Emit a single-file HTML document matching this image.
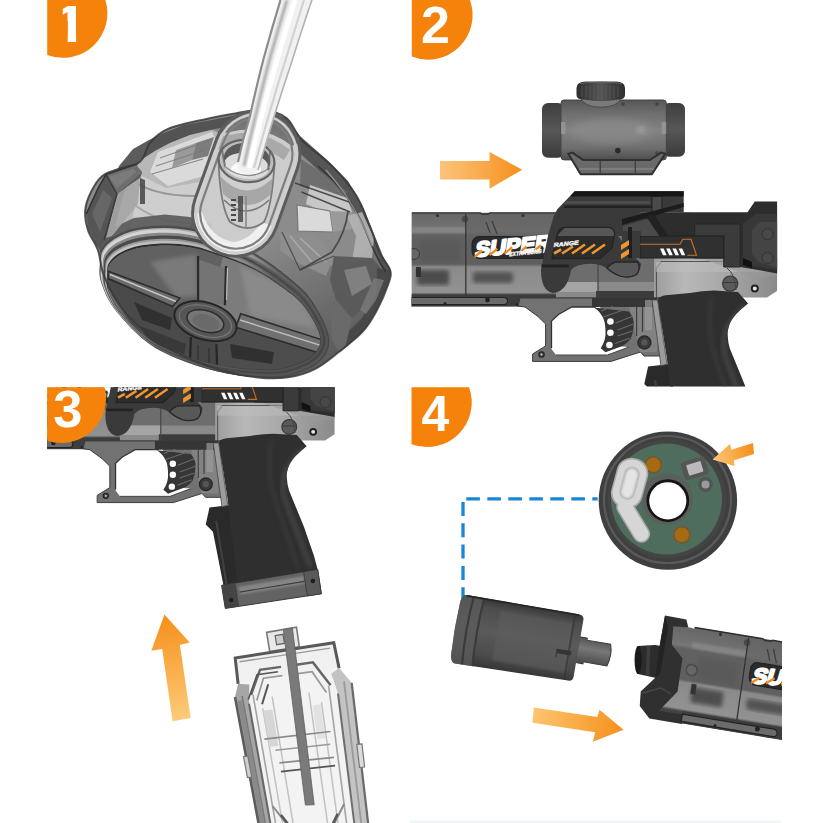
<!DOCTYPE html>
<html><head><meta charset="utf-8"><title>Steps</title>
<style>
html,body{margin:0;padding:0;background:#fff;}
body{width:823px;height:823px;overflow:hidden;position:relative;font-family:"Liberation Sans",sans-serif;}
svg{position:absolute;left:0;top:0;display:block}
text{font-family:"Liberation Sans",sans-serif;font-weight:700}
</style></head><body>
<svg width="823" height="823" viewBox="0 0 823 823">
<defs>
<linearGradient id="arR" x1="0" y1="0" x2="1" y2="0"><stop offset="0" stop-color="#fcc47c"/><stop offset="1" stop-color="#f6901c"/></linearGradient>
<linearGradient id="arU" x1="0" y1="1" x2="0" y2="0"><stop offset="0" stop-color="#fbd9a3"/><stop offset="1" stop-color="#f18a1c"/></linearGradient>
<filter id="b05"><feGaussianBlur stdDeviation="0.5"/></filter>
<filter id="b1"><feGaussianBlur stdDeviation="1"/></filter>
<filter id="b2"><feGaussianBlur stdDeviation="2"/></filter>
<filter id="b3"><feGaussianBlur stdDeviation="3.5"/></filter>
<linearGradient id="gBody" gradientUnits="userSpaceOnUse" x1="0" y1="212.700" x2="0" y2="306.300">
<stop offset="0" stop-color="#666"/><stop offset=".15" stop-color="#717171"/><stop offset=".2" stop-color="#777"/><stop offset=".24" stop-color="#616161"/><stop offset=".55" stop-color="#5f5f5f"/><stop offset=".58" stop-color="#8a8a8a"/><stop offset=".85" stop-color="#929292"/><stop offset=".88" stop-color="#444"/><stop offset="1" stop-color="#3c3c3c"/></linearGradient>
<linearGradient id="gFrame" gradientUnits="userSpaceOnUse" x1="654" y1="0" x2="777" y2="0"><stop offset="0" stop-color="#9c9c9c"/><stop offset=".25" stop-color="#b8b8b8"/><stop offset=".6" stop-color="#a6a6a6"/><stop offset="1" stop-color="#8a8a8a"/></linearGradient>
<clipPath id="c2"><rect x="411.800" y="0" width="365.500" height="386.400"/></clipPath>
<clipPath id="c3"><rect x="47.200" y="387.300" width="287.400" height="300"/></clipPath>
<linearGradient id="gScope" x1="0" y1="0" x2="0" y2="1"><stop offset="0" stop-color="#565656"/><stop offset=".2" stop-color="#6c6c6c"/><stop offset=".5" stop-color="#838383"/><stop offset=".8" stop-color="#6e6e6e"/><stop offset="1" stop-color="#4e4e4e"/></linearGradient>
<linearGradient id="gCap" x1="0" y1="0" x2="0" y2="1"><stop offset="0" stop-color="#3e3e3e"/><stop offset=".5" stop-color="#575757"/><stop offset="1" stop-color="#3a3a3a"/></linearGradient>
<linearGradient id="gKnob" x1="0" y1="0" x2="1" y2="0"><stop offset="0" stop-color="#2e2e2e"/><stop offset=".5" stop-color="#555"/><stop offset="1" stop-color="#2e2e2e"/></linearGradient>
<clipPath id="c4"><rect x="411" y="387" width="371" height="436"/></clipPath>
<linearGradient id="gCyl" x1="0" y1="0" x2="0" y2="1"><stop offset="0" stop-color="#363636"/><stop offset=".12" stop-color="#4c4c4c"/><stop offset=".45" stop-color="#5a5a5a"/><stop offset=".8" stop-color="#4c4c4c"/><stop offset="1" stop-color="#343434"/></linearGradient>
<linearGradient id="gNoz" x1="0" y1="0" x2="0" y2="1"><stop offset="0" stop-color="#555"/><stop offset=".4" stop-color="#777"/><stop offset="1" stop-color="#4a4a4a"/></linearGradient>
<linearGradient id="arS" gradientUnits="userSpaceOnUse" x1="713" y1="460" x2="754" y2="448"><stop offset="0" stop-color="#fcc878"/><stop offset="1" stop-color="#f58d1a"/></linearGradient>
<linearGradient id="arR4" gradientUnits="userSpaceOnUse" x1="532" y1="714" x2="624" y2="730"><stop offset="0" stop-color="#fcc670"/><stop offset="1" stop-color="#f6901c"/></linearGradient>
<linearGradient id="dBase" gradientUnits="userSpaceOnUse" x1="150" y1="120" x2="300" y2="380"><stop offset="0" stop-color="#8a8a8a"/><stop offset=".5" stop-color="#8e8e8e"/><stop offset="1" stop-color="#5a5a5a"/></linearGradient>
<linearGradient id="dLid" gradientUnits="userSpaceOnUse" x1="180" y1="240" x2="240" y2="380"><stop offset="0" stop-color="#747474"/><stop offset="1" stop-color="#4a4a4a"/></linearGradient>
<linearGradient id="arU3" gradientUnits="userSpaceOnUse" x1="182" y1="720" x2="166" y2="616"><stop offset="0" stop-color="#fccb7a"/><stop offset="1" stop-color="#f6901c"/></linearGradient>
<linearGradient id="dRimShade" gradientUnits="userSpaceOnUse" x1="150" y1="225" x2="250" y2="380"><stop offset="0" stop-color="#484848" stop-opacity="0"/><stop offset=".3" stop-color="#484848" stop-opacity=".15"/><stop offset=".6" stop-color="#484848" stop-opacity=".8"/><stop offset="1" stop-color="#444" stop-opacity=".88"/></linearGradient>
</defs>
<rect width="823" height="823" fill="#fff"/>
<g id="p1">
<path d="M85.2 210.3C85.7 203.9 88.2 197.7 91.0 192.0C93.8 186.3 97.2 180.1 102.0 176.2C106.8 172.3 114.3 170.5 120.0 168.5C125.7 166.5 132.2 165.8 136.0 164.0C139.8 162.2 140.5 161.8 143.0 158.0C145.5 154.2 146.5 146.5 151.0 141.5C155.5 136.5 161.0 131.8 170.2 128.0C179.4 124.2 196.0 121.2 206.3 118.9C216.6 116.6 222.6 115.5 232.0 114.0C241.4 112.5 253.4 109.3 262.5 110.0C271.6 110.7 280.0 113.0 286.5 118.0C293.0 123.0 294.1 131.9 301.7 140.0C309.3 148.1 323.2 157.1 332.3 166.3C341.4 175.5 349.9 185.4 356.1 195.3C362.3 205.2 365.7 216.3 369.7 225.9C373.7 235.5 376.5 245.7 379.9 253.1C383.3 260.5 388.7 265.0 390.1 270.1C391.5 275.2 390.7 276.9 388.4 283.7C386.1 290.5 380.8 303.1 376.5 311.0C372.2 318.9 369.1 324.6 362.9 331.4C356.7 338.2 347.0 345.6 339.1 351.8C331.2 358.0 323.8 364.6 315.3 368.8C306.8 373.1 297.6 375.9 288.0 377.3C278.4 378.8 268.9 378.6 258.0 377.5C247.1 376.4 235.0 374.2 222.4 370.5C209.8 366.8 194.3 361.2 182.3 355.5C170.3 349.8 160.2 343.8 150.2 336.0C140.2 328.2 129.8 318.5 122.1 308.5C114.4 298.5 108.1 285.7 104.1 276.0C100.1 266.3 100.7 258.0 98.0 250.4C95.3 242.8 90.1 237.0 88.0 230.3C85.9 223.6 84.7 216.7 85.2 210.3Z" fill="url(#dBase)"/>
<path d="M100 252L98 230L110 190L119 166L133 149L149 140L164 133L184 125L206 121L232 116L262 110L286 118L300 136L290 140Q262 120 232 126L210 130L190 135L170 143L155 151L141 160L130 176L122 200L112 240L108 262Z" fill="#4e4e4e" opacity=".92"/>
<path d="M141 160L155 151L170 143L190 135L212 130L222 134L200 200L186 236L150 240L120 250L112 240L122 200L130 176Z" fill="#bdbdbd" opacity=".9"/>
<path d="M158 152L212 132L216 140L204 176L168 186L150 172Z" fill="#dedede" opacity=".9" filter="url(#b05)"/>
<path d="M176 150L196 143L192 160L172 168Z" fill="#8a8a8a" opacity=".8"/>
<path d="M196 143L214 137L208 156L192 160Z" fill="#6c6c6c" opacity=".85"/>
<path d="M160 158L208 141M156 166L205 150M152 174L203 159" stroke="#777" stroke-width="1.200" opacity=".8"/>
<path d="M142 176L166 188L200 182L190 226L150 238L126 246Z" fill="#d2d2d2" opacity=".85" filter="url(#b05)"/>
<path d="M130 178Q150 196 196 196" stroke="#8a8a8a" stroke-width="2" fill="none" opacity=".8"/>
<path d="M128 200Q160 226 192 222" stroke="#9a9a9a" stroke-width="2" fill="none" opacity=".7"/>
<path d="M140 178v26h5v-24z" fill="#444" opacity=".85"/>
<path d="M101 246L112 228L134 218L165 214.500L190 217L212 224L212 236L189 229L165 226.500L136 229L114 238L103 252Z" fill="#5a5a5a" opacity=".9" filter="url(#b05)"/>
<path d="M86.400 213.700L98.400 187.500L106 174.400L135.600 164.500L142.200 172.200L140 178L117 194L104 240L100.600 250L96.200 244.400L88.600 229Z" fill="#5c5c5c"/>
<path d="M106 174.400L135.600 164.500L142.200 172.200L117 194Z" fill="#6e6e6e"/>
<path d="M109 177L133 168.500L136 172L117 188Z" fill="#7e7e7e" opacity=".8"/>
<path d="M117 194L140 178L138 204L112 236L106 238Z" fill="#a6a6a6" opacity=".9"/>
<path d="M86.400 213.700L98.400 187.500L106 174.400L117 194L104 238L100.600 250L96.200 244.400L88.600 229Z" fill="#555"/>
<path d="M92 214L103 190L112 198L100 232Z" fill="#6c6c6c" opacity=".8"/>
<path d="M86.400 213.700L98.400 187.500L106 174.400L135.600 164.500" stroke="#333" stroke-width="1.600" fill="none"/>
<path d="M106 174.400L117 194L104 240" stroke="#3a3a3a" stroke-width="1.400" fill="none"/>
<path d="M300 136L326 159L348 181L363 207L374 234L383 256L391 271L384 272L370 244L356 214L340 190L318 170L296 150Z" fill="#505050" opacity=".92"/>
<path d="M296 150L318 170L340 190L356 214L370 244L350 262L318 268L282 250L276 226L290 180Z" fill="#8c8c8c" opacity=".95"/>
<path d="M301 159L330 178L347 192L340 200L300 186Z" fill="#6a6a6a" opacity=".9"/>
<path d="M310 185L347 198L352 212L334 216L306 204Z" fill="#cacaca" opacity=".95"/>
<path d="M297 205L330 211L333 232L298 231Z" fill="#dadada"/>
<path d="M297 205L330 211L333 232L298 231Z" fill="none" stroke="#777" stroke-width="1.200"/>
<path d="M330 211L352 212L356 228L333 232Z" fill="#9a9a9a"/>
<path d="M347 216L362 212L374 238L372 258L352 262L356 236Z" fill="#b4b4b4" opacity=".9" filter="url(#b05)"/>
<path d="M282 232L318 238L334 256L326 276L296 262L280 250Z" fill="#8e8e8e"/>
<path d="M290 236L312 262M300 238L326 262" stroke="#b4b4b4" stroke-width="1.600" opacity=".7"/>
<path d="M334 256L372 258L386 274L372 300L352 318L336 300L330 280Z" fill="#5a5a5a" opacity=".95"/>
<path d="M344 270L366 266L372 284L352 296Z" fill="#8a8a8a" opacity=".8" filter="url(#b05)"/>
<path d="M377 268L391 271L388 284L376 311L363 331L345 348L340 340L362 318L376 294Z" fill="#484848"/>
<path d="M374 278L384 280L376 300L366 314L360 310Z" fill="#7a7a7a" opacity=".8"/>
<path d="M330 300L352 318L345 348L339 352L332 340Z" fill="#6a6a6a"/>
<path d="M295 183L352 203M301.500 192L350 212" stroke="#3a3a3a" stroke-width="1.500" opacity=".85"/>
<path d="M348 211Q346 232 332 252L300 270" stroke="#3e3e3e" stroke-width="1.800" fill="none" opacity=".85"/>
<path d="M318 166Q352 196 366 232Q376 258 386 272" stroke="#2e2e2e" stroke-width="1.600" fill="none" opacity=".8"/>
<path d="M326 170Q356 204 372 246" stroke="#bdbdbd" stroke-width="1.200" fill="none" opacity=".6"/>
<path d="M282 232L300 270L334 256" stroke="#444" stroke-width="1.300" fill="none" opacity=".8"/>
<path d="M100.0 262.0C100.2 256.4 99.7 252.8 102.0 248.5C104.3 244.2 108.3 239.9 114.0 236.5C119.7 233.1 127.5 229.8 136.0 228.0C144.5 226.2 156.2 225.5 165.0 225.5C173.8 225.5 181.2 226.4 189.0 228.0C196.8 229.6 201.2 230.8 212.0 235.0C222.8 239.2 241.3 246.0 254.0 253.0C266.7 260.0 278.3 269.0 288.0 277.0C297.7 285.0 305.2 290.8 312.0 301.0C318.8 311.2 327.8 327.8 329.0 338.0C330.2 348.2 325.8 355.7 319.0 362.0C312.2 368.3 298.2 373.5 288.0 376.0C277.8 378.5 267.7 377.3 258.0 377.0C248.3 376.7 241.0 376.2 230.0 374.0C219.0 371.8 205.2 368.8 192.0 364.0C178.8 359.2 163.7 353.8 151.0 345.0C138.3 336.2 124.3 321.5 116.0 311.0C107.7 300.5 103.7 290.2 101.0 282.0C98.3 273.8 99.8 267.6 100.0 262.0Z" fill="#4c4c4c"/>
<path d="M101.0 263.6C101.1 258.1 100.6 254.5 102.9 250.4C105.3 246.2 109.2 242.0 114.8 238.7C120.5 235.3 128.2 232.1 136.6 230.3C145.1 228.6 156.6 227.9 165.4 227.9C174.1 227.9 181.4 228.8 189.2 230.3C196.9 231.9 201.2 233.1 212.0 237.2C222.7 241.3 241.0 247.9 253.6 254.8C266.1 261.6 277.7 270.4 287.3 278.3C296.9 286.1 304.3 291.8 311.1 301.7C317.8 311.7 326.8 328.0 327.9 337.9C329.1 347.8 324.8 355.2 318.0 361.4C311.2 367.6 297.4 372.6 287.3 375.1C277.2 377.5 267.1 376.4 257.6 376.0C248.0 375.7 240.7 375.2 229.8 373.1C218.9 371.0 205.2 368.1 192.1 363.3C179.1 358.6 164.1 353.4 151.5 344.7C139.0 336.1 125.1 321.8 116.8 311.5C108.6 301.2 104.6 291.1 102.0 283.1C99.3 275.2 100.8 269.1 101.0 263.6Z" fill="#b4b4b4"/>
<path d="M101.6 264.7C101.8 259.3 101.3 255.7 103.6 251.7C105.9 247.6 109.8 243.4 115.4 240.1C121.0 236.8 128.7 233.7 137.1 231.9C145.4 230.1 156.9 229.5 165.6 229.5C174.3 229.5 181.6 230.4 189.3 231.9C197.0 233.4 201.3 234.6 211.9 238.7C222.6 242.7 240.8 249.2 253.3 256.0C265.8 262.7 277.3 271.4 286.8 279.1C296.3 286.8 303.7 292.4 310.5 302.2C317.2 312.0 326.1 328.1 327.2 337.8C328.4 347.6 324.1 354.9 317.4 361.0C310.6 367.1 296.8 372.0 286.8 374.4C276.8 376.8 266.8 375.7 257.3 375.4C247.7 375.1 240.5 374.6 229.7 372.5C218.8 370.4 205.2 367.5 192.2 362.9C179.3 358.2 164.3 353.1 151.8 344.6C139.4 336.1 125.6 322.0 117.4 311.8C109.2 301.7 105.2 291.8 102.6 283.9C100.0 276.0 101.4 270.0 101.6 264.7Z" fill="#d6d6d6"/>
<path d="M102.9 266.8C103.0 261.6 102.6 258.1 104.8 254.2C107.1 250.2 111.0 246.2 116.5 243.0C122.0 239.8 129.6 236.8 137.9 235.0C146.2 233.3 157.5 232.7 166.1 232.7C174.7 232.7 181.9 233.6 189.5 235.0C197.1 236.5 201.3 237.7 211.9 241.6C222.4 245.5 240.4 251.8 252.8 258.4C265.1 264.9 276.5 273.3 285.9 280.8C295.3 288.2 302.6 293.7 309.2 303.2C315.9 312.7 324.6 328.2 325.8 337.7C326.9 347.2 322.7 354.2 316.0 360.1C309.4 366.0 295.8 370.8 285.9 373.2C276.0 375.5 266.1 374.4 256.7 374.1C247.3 373.8 240.1 373.3 229.4 371.3C218.7 369.3 205.2 366.5 192.4 362.0C179.6 357.5 164.8 352.5 152.5 344.2C140.2 336.0 126.6 322.3 118.5 312.5C110.3 302.7 106.4 293.1 103.9 285.4C101.3 277.8 102.7 272.0 102.9 266.8Z" fill="#8a8a8a"/>
<path d="M104.0 268.6C104.2 263.6 103.7 260.2 105.9 256.4C108.2 252.5 112.0 248.6 117.5 245.5C122.9 242.4 130.5 239.4 138.7 237.8C146.8 236.1 158.1 235.5 166.6 235.5C175.1 235.5 182.2 236.3 189.7 237.8C197.2 239.2 201.4 240.3 211.9 244.1C222.3 247.9 240.1 254.1 252.3 260.5C264.5 266.8 275.7 275.0 285.0 282.2C294.3 289.5 301.6 294.8 308.2 304.0C314.7 313.3 323.4 328.4 324.5 337.6C325.6 346.8 321.5 353.6 314.9 359.4C308.3 365.1 294.8 369.8 285.0 372.1C275.2 374.4 265.5 373.3 256.1 373.0C246.8 372.7 239.8 372.2 229.2 370.3C218.6 368.3 205.3 365.6 192.6 361.2C179.9 356.8 165.3 352.0 153.1 344.0C140.9 335.9 127.4 322.6 119.4 313.1C111.4 303.6 107.5 294.2 105.0 286.8C102.4 279.4 103.8 273.7 104.0 268.6Z" fill="#4a4a4a"/>
<path d="M105.3 270.8C105.4 265.9 105.0 262.6 107.2 258.9C109.4 255.2 113.2 251.4 118.6 248.4C124.0 245.4 131.4 242.5 139.5 240.9C147.6 239.3 158.7 238.7 167.1 238.7C175.5 238.7 182.5 239.5 189.9 240.9C197.4 242.3 201.5 243.4 211.8 247.1C222.1 250.7 239.7 256.7 251.8 262.9C263.8 269.0 274.9 276.9 284.1 283.9C293.3 290.9 300.4 296.1 306.9 305.0C313.4 313.9 322.0 328.5 323.1 337.5C324.2 346.4 320.1 353.0 313.6 358.5C307.1 364.1 293.8 368.6 284.1 370.8C274.4 373.0 264.8 372.0 255.6 371.7C246.4 371.4 239.4 371.0 228.9 369.1C218.5 367.2 205.3 364.5 192.8 360.3C180.3 356.1 165.8 351.4 153.8 343.6C141.7 335.9 128.4 323.0 120.5 313.8C112.6 304.6 108.8 295.5 106.2 288.3C103.7 281.1 105.1 275.7 105.3 270.8Z" fill="#9c9c9c"/>
<path d="M106.1 272.1C106.2 267.3 105.8 264.1 108.0 260.5C110.2 256.8 113.9 253.1 119.3 250.2C124.6 247.2 132.0 244.4 140.0 242.9C148.1 241.3 159.1 240.7 167.4 240.7C175.8 240.7 182.7 241.5 190.1 242.9C197.5 244.2 201.6 245.3 211.8 248.9C222.0 252.5 239.5 258.3 251.4 264.3C263.4 270.4 274.4 278.1 283.5 285.0C292.6 291.8 299.7 296.9 306.2 305.6C312.6 314.3 321.1 328.7 322.2 337.4C323.3 346.1 319.2 352.6 312.8 358.0C306.3 363.5 293.1 367.9 283.5 370.1C273.9 372.2 264.3 371.2 255.2 370.9C246.1 370.6 239.1 370.2 228.8 368.3C218.4 366.5 205.3 363.9 192.9 359.7C180.5 355.6 166.2 351.0 154.2 343.4C142.3 335.8 129.0 323.2 121.2 314.2C113.3 305.2 109.5 296.3 107.0 289.3C104.5 282.3 105.9 276.9 106.1 272.1Z" fill="#c4c4c4"/>
<path d="M107.2 273.9C107.3 269.3 106.9 266.2 109.1 262.7C111.2 259.1 115.0 255.5 120.3 252.7C125.5 249.8 132.9 247.1 140.8 245.6C148.7 244.1 159.6 243.5 167.9 243.5C176.1 243.5 183.0 244.3 190.3 245.6C197.6 246.9 201.6 248.0 211.7 251.4C221.8 254.9 239.1 260.6 250.9 266.4C262.8 272.3 273.6 279.8 282.7 286.4C291.7 293.1 298.7 298.0 305.1 306.4C311.5 314.9 319.9 328.8 320.9 337.3C322.0 345.8 318.0 352.0 311.6 357.3C305.2 362.6 292.2 366.9 282.7 369.0C273.2 371.0 263.7 370.1 254.7 369.8C245.6 369.5 238.8 369.1 228.5 367.3C218.3 365.5 205.4 363.0 193.1 359.0C180.8 354.9 166.6 350.5 154.8 343.1C143.0 335.8 129.9 323.5 122.1 314.8C114.3 306.0 110.6 297.4 108.1 290.6C105.6 283.8 107.0 278.6 107.2 273.9Z" fill="#2e2e2e"/>
<path d="M100.0 262.0C100.2 256.4 99.7 252.8 102.0 248.5C104.3 244.2 108.3 239.9 114.0 236.5C119.7 233.1 127.5 229.8 136.0 228.0C144.5 226.2 156.2 225.5 165.0 225.5C173.8 225.5 181.2 226.4 189.0 228.0C196.8 229.6 201.2 230.8 212.0 235.0C222.8 239.2 241.3 246.0 254.0 253.0C266.7 260.0 278.3 269.0 288.0 277.0C297.7 285.0 305.2 290.8 312.0 301.0C318.8 311.2 327.8 327.8 329.0 338.0C330.2 348.2 325.8 355.7 319.0 362.0C312.2 368.3 298.2 373.5 288.0 376.0C277.8 378.5 267.7 377.3 258.0 377.0C248.3 376.7 241.0 376.2 230.0 374.0C219.0 371.8 205.2 368.8 192.0 364.0C178.8 359.2 163.7 353.8 151.0 345.0C138.3 336.2 124.3 321.5 116.0 311.0C107.7 300.5 103.7 290.2 101.0 282.0C98.3 273.8 99.8 267.6 100.0 262.0Z M108.0 275.3C108.1 270.7 107.7 267.7 109.8 264.3C112.0 260.8 115.7 257.3 121.0 254.5C126.2 251.7 133.5 249.0 141.3 247.6C149.2 246.1 160.0 245.5 168.2 245.5C176.4 245.5 183.2 246.3 190.4 247.6C197.7 248.8 201.7 249.9 211.7 253.3C221.7 256.7 238.9 262.2 250.6 267.9C262.3 273.6 273.1 281.0 282.1 287.5C291.0 294.0 298.0 298.8 304.3 307.0C310.6 315.3 319.0 328.9 320.0 337.2C321.1 345.5 317.1 351.6 310.8 356.8C304.5 361.9 291.5 366.1 282.1 368.2C272.7 370.2 263.3 369.3 254.3 369.0C245.3 368.7 238.6 368.3 228.4 366.5C218.2 364.8 205.4 362.3 193.2 358.4C181.0 354.5 166.9 350.1 155.2 342.9C143.5 335.7 130.5 323.8 122.8 315.2C115.1 306.6 111.4 298.2 108.9 291.6C106.4 284.9 107.8 279.8 108.0 275.3Z" fill="url(#dRimShade)" fill-rule="evenodd"/>
<path d="M108.0 275.3C108.1 270.7 107.7 267.7 109.8 264.3C112.0 260.8 115.7 257.3 121.0 254.5C126.2 251.7 133.5 249.0 141.3 247.6C149.2 246.1 160.0 245.5 168.2 245.5C176.4 245.5 183.2 246.3 190.4 247.6C197.7 248.8 201.7 249.9 211.7 253.3C221.7 256.7 238.9 262.2 250.6 267.9C262.3 273.6 273.1 281.0 282.1 287.5C291.0 294.0 298.0 298.8 304.3 307.0C310.6 315.3 319.0 328.9 320.0 337.2C321.1 345.5 317.1 351.6 310.8 356.8C304.5 361.9 291.5 366.1 282.1 368.2C272.7 370.2 263.3 369.3 254.3 369.0C245.3 368.7 238.6 368.3 228.4 366.5C218.2 364.8 205.4 362.3 193.2 358.4C181.0 354.5 166.9 350.1 155.2 342.9C143.5 335.7 130.5 323.8 122.8 315.2C115.1 306.6 111.4 298.2 108.9 291.6C106.4 284.9 107.8 279.8 108.0 275.3Z" fill="url(#dLid)"/>
<clipPath id="cLid"><path d="M108.0 275.3C108.1 270.7 107.7 267.7 109.8 264.3C112.0 260.8 115.7 257.3 121.0 254.5C126.2 251.7 133.5 249.0 141.3 247.6C149.2 246.1 160.0 245.5 168.2 245.5C176.4 245.5 183.2 246.3 190.4 247.6C197.7 248.8 201.7 249.9 211.7 253.3C221.7 256.7 238.9 262.2 250.6 267.9C262.3 273.6 273.1 281.0 282.1 287.5C291.0 294.0 298.0 298.8 304.3 307.0C310.6 315.3 319.0 328.9 320.0 337.2C321.1 345.5 317.1 351.6 310.8 356.8C304.5 361.9 291.5 366.1 282.1 368.2C272.7 370.2 263.3 369.3 254.3 369.0C245.3 368.7 238.6 368.3 228.4 366.5C218.2 364.8 205.4 362.3 193.2 358.4C181.0 354.5 166.9 350.1 155.2 342.9C143.5 335.7 130.5 323.8 122.8 315.2C115.1 306.6 111.4 298.2 108.9 291.6C106.4 284.9 107.8 279.8 108.0 275.3Z"/></clipPath>
<g clip-path="url(#cLid)">
<path d="M205 321L100 268L130 236L230 244Z" fill="#616161"/>
<path d="M150 262L196 254L198 296L176 298Z" fill="#8a8a8a" opacity=".6" filter="url(#b2)"/>
<path d="M226 246L300 280L335 345L205 321Z" fill="#7c7c7c"/>
<path d="M240 266L296 290L316 328L250 316Z" fill="#909090" opacity=".7" filter="url(#b2)"/>
<path d="M205 321L335 345L310 385L205 385Z" fill="#4d4d4d"/>
<path d="M205 321L205 385L150 355L100 275Z" fill="#4a4a4a"/>
<path d="M134 302L172 318L170 330L142 320Z" fill="#2c2c2c" opacity=".8" filter="url(#b05)"/>
<path d="M140 326L186 344L184 354L150 342Z" fill="#303030" opacity=".7" filter="url(#b05)"/>
<path d="M230 344L274 352L272 364L232 358Z" fill="#2c2c2c" opacity=".8" filter="url(#b05)"/>
<path d="M108.200 271.300L179.900 298L172.600 306.500L108.200 278.600Z" fill="#6a6a6a" stroke="#2c2c2c" stroke-width="1.600"/>
<path d="M110 274.500L176 301.500" stroke="#d4d4d4" stroke-width="1.400" opacity=".85"/>
<path d="M240.700 313.800L335 344L335 358L235.800 327.200Z" fill="#707070" stroke="#2c2c2c" stroke-width="1.600"/>
<path d="M240 320L335 350" stroke="#d0d0d0" stroke-width="1.400" opacity=".8"/>
<path d="M198.100 259.200L226 268.900L224.900 305.300L198.100 300.500Z" fill="#747474"/>
<path d="M198.100 256L198.100 300.500M226 266L224.900 305.300" stroke="#2a2a2a" stroke-width="2.200"/>
<path d="M227.500 268L226.500 300" stroke="#cfcfcf" stroke-width="1.200" opacity=".8"/>
<path d="M190.900 337L216.400 344.200L217.600 380L189.600 380Z" fill="#474747"/>
<path d="M190.900 337L189.600 372M216.400 344.200L217.600 380" stroke="#262626" stroke-width="2.200"/>
<path d="M198 345V372M209 348V376" stroke="#333" stroke-width="1.400"/>
</g>
<g transform="translate(205.4 321.1) rotate(17)">
<ellipse rx="32" ry="18.5" fill="#565656" stroke="#262626" stroke-width="2"/>
<ellipse rx="27" ry="15" fill="none" stroke="#8a8a8a" stroke-width="1" opacity=".7"/>
<ellipse rx="19" ry="10.5" fill="#767676" stroke="#2e2e2e" stroke-width="1.6"/>
<ellipse cx="1" cy="1" rx="14" ry="7.5" fill="#6a6a6a"/>
</g>
<path d="M85.2 210.3C85.7 203.9 88.2 197.7 91.0 192.0C93.8 186.3 97.2 180.1 102.0 176.2C106.8 172.3 114.3 170.5 120.0 168.5C125.7 166.5 132.2 165.8 136.0 164.0C139.8 162.2 140.5 161.8 143.0 158.0C145.5 154.2 146.5 146.5 151.0 141.5C155.5 136.5 161.0 131.8 170.2 128.0C179.4 124.2 196.0 121.2 206.3 118.9C216.6 116.6 222.6 115.5 232.0 114.0C241.4 112.5 253.4 109.3 262.5 110.0C271.6 110.7 280.0 113.0 286.5 118.0C293.0 123.0 294.1 131.9 301.7 140.0C309.3 148.1 323.2 157.1 332.3 166.3C341.4 175.5 349.9 185.4 356.1 195.3C362.3 205.2 365.7 216.3 369.7 225.9C373.7 235.5 376.5 245.7 379.9 253.1C383.3 260.5 388.7 265.0 390.1 270.1C391.5 275.2 390.7 276.9 388.4 283.7C386.1 290.5 380.8 303.1 376.5 311.0C372.2 318.9 369.1 324.6 362.9 331.4C356.7 338.2 347.0 345.6 339.1 351.8C331.2 358.0 323.8 364.6 315.3 368.8C306.8 373.1 297.6 375.9 288.0 377.3C278.4 378.8 268.9 378.6 258.0 377.5C247.1 376.4 235.0 374.2 222.4 370.5C209.8 366.8 194.3 361.2 182.3 355.5C170.3 349.8 160.2 343.8 150.2 336.0C140.2 328.2 129.8 318.5 122.1 308.5C114.4 298.5 108.1 285.7 104.1 276.0C100.1 266.3 100.7 258.0 98.0 250.4C95.3 242.8 90.1 237.0 88.0 230.3C85.9 223.6 84.7 216.7 85.2 210.3Z" fill="none" stroke="#3a3a3a" stroke-width="2" opacity=".85"/>
<clipPath id="cPl"><rect x="-43" y="-74.4" width="86" height="148.8" rx="43" transform="translate(246.3 183.5) rotate(19.7)"/></clipPath>
<g transform="translate(246.3 183.5) rotate(19.7)">
<rect x="-43" y="-74.4" width="86" height="148.8" rx="43" fill="#d6d6d6" opacity=".86"/>
</g>
<g clip-path="url(#cPl)">
<path d="M206 121L232 116L262 110L290 118L304 140L292 146Q270 128 240 130L214 135Z" fill="#5a5a5a" opacity=".75"/>
<path d="M214 138L240 133Q268 132 290 150L284 160Q262 144 238 146L214 150Z" fill="#9a9a9a" opacity=".7"/>
<path d="M190 215Q200 250 236 256Q262 250 272 226L262 222Q250 240 234 242Q210 238 202 212Z" fill="#fff" opacity=".7"/>
</g>
<g transform="translate(246.3 183.5) rotate(19.7)">
<rect x="-43" y="-74.4" width="86" height="148.8" rx="43" fill="none" stroke="#5c5c5c" stroke-width="3"/>
<rect x="-39.500" y="-71" width="79" height="142" rx="39.500" fill="none" stroke="#cfcfcf" stroke-width="2.5"/>
<rect x="-35.500" y="-67" width="71" height="134" rx="35.500" fill="none" stroke="#7e7e7e" stroke-width="2.200"/>
</g>
<path d="M218.500 160Q220 206 230 222Q248 234 264 222Q272 206 274.500 164Z" fill="#d0d0d0" stroke="#777" stroke-width="1.800" opacity=".95"/>
<path d="M220 176Q246 204 273 178L271 194Q248 216 223 194Z" fill="#9c9c9c" opacity=".8"/>
<path d="M224 200Q246 222 269 200" stroke="#7a7a7a" stroke-width="1.600" fill="none"/>
<ellipse cx="246.500" cy="161" rx="28" ry="21" transform="rotate(8 246.500 161)" fill="#bdbdbd" stroke="#666" stroke-width="2.200"/>
<ellipse cx="247" cy="160" rx="23.500" ry="17" transform="rotate(8 247 160)" fill="#5a5a5a"/>
<ellipse cx="246.500" cy="166" rx="22.500" ry="13" transform="rotate(8 246.500 166)" fill="#dcdcdc"/>
<ellipse cx="246" cy="169" rx="15" ry="7.500" fill="#fff" opacity=".85"/>
<path d="M224 166Q246 184 270 168" stroke="#8a8a8a" stroke-width="1.400" fill="none"/>
<path d="M238 196h5v26h-5z" fill="#4a4a4a" opacity=".85"/>
<path d="M236 200h-5M236 205h-5M236 210h-5M236 215h-5M236 220h-5" stroke="#4a4a4a" stroke-width="1.800"/>
<path d="M246 196V228" stroke="#8a8a8a" stroke-width="1.600"/>
<path d="M222 150l3 16M270 152l-2 18" stroke="#666" stroke-width="2" opacity=".8"/>
<path d="M280.500 0H311.900Q301 32 292.900 58.300Q283 88 274 116.700Q264 150 258 170Q250 178 240 172Q236 168 238 160Q243 138 249.900 116.700Q256 88 263.700 58.300Q272 28 280.500 0Z" fill="#f1f1f1"/>
<path d="M280.500 0Q272 28 263.700 58.300Q256 88 249.900 116.700Q243 138 238 162" stroke="#8c8c8c" stroke-width="2.200" fill="none"/>
<path d="M311.900 0Q301 32 292.900 58.300Q283 88 274 116.700Q264 150 258 170" stroke="#b2b2b2" stroke-width="1.600" fill="none"/>
<path d="M287 0Q278 30 270 58Q262 88 255.500 116Q249 142 244 166" stroke="#9a9a9a" stroke-width="3" fill="none" opacity=".8" filter="url(#b1)"/>
<path d="M295 0Q285 32 277 60Q268 90 261 118Q254 146 249 168" stroke="#fff" stroke-width="5" fill="none"/>
<path d="M304 0Q294 32 285.500 60Q276 90 268 118Q260 146 254 168" stroke="#cfcfcf" stroke-width="2.200" fill="none" opacity=".9" filter="url(#b05)"/>
</g>
<g id="p2" clip-path="url(#c2)">
<g id="gun">
<!-- front extension (visible in panel 4) -->
<path d="M385 214H412V306.300H385Z" fill="url(#gBody)"/>
<path d="M357.300 239.500Q354.500 252 361.400 266.200L380 267.100V235.800H374.500Z" fill="#2c2c2c"/>
<ellipse cx="359.600" cy="252.800" rx="3.600" ry="13.600" fill="#1b1b1b" transform="rotate(-8 359.600 252.800)"/>
<path d="M368 237.500L371 266" stroke="#4a4a4a" stroke-width="3.500" opacity=".6"/>
<path d="M379.900 206.200L401.600 206.500L404.600 213.600H409L389.600 215L390.800 232.900L403.300 244.200L403.100 276.600L387.400 298H412V307H396.900L379 307L367.700 296.500L366.600 282.400L379.100 267.100L378.800 238.600Z" fill="#303030"/>
<path d="M379.900 206.200L384.500 217L383.500 263L379.100 267.100L378.800 238.600Z" fill="#232323"/>
<path d="M367.500 284L386 276L397 280" stroke="#484848" stroke-width="1.500" fill="none"/>
<!-- translucent body -->
<path d="M411 212.7H560V306.3H411Z" fill="url(#gBody)"/>
<rect x="411" y="227" width="55" height="6" fill="#8c8c8c" opacity=".7" filter="url(#b1)"/>
<rect x="466" y="214" width="90" height="20" fill="#646464" opacity=".6"/>
<!-- dark blotches inside -->
<rect x="417" y="270" width="32" height="15" rx="2" fill="#3e3e3e" opacity=".8" filter="url(#b2)"/>
<rect x="416" y="267" width="5" height="10" fill="#333" filter="url(#b05)"/>
<rect x="473" y="272" width="40" height="11" rx="3" fill="#444" opacity=".8" filter="url(#b2)"/>
<rect x="420" y="240" width="40" height="22" fill="#555" opacity=".5" filter="url(#b2)"/>
<circle cx="414" cy="254" r="5.5" fill="#666" stroke="#3a3a3a" stroke-width="1" filter="url(#b05)"/>
<circle cx="465" cy="219" r="3.3" fill="#4a4a4a" filter="url(#b05)"/>
<circle cx="437.5" cy="215.5" r="1.6" fill="#333"/><circle cx="523" cy="215.5" r="1.6" fill="#333"/>
<path d="M411 266.5H515" stroke="#3c3c3c" stroke-width="1.6" opacity=".85" filter="url(#b05)"/>
<path d="M465.8 214V305" stroke="#333" stroke-width="1.3"/>
<path d="M411 212.9H480l2 1.2h6l2-1.2H560" stroke="#2e2e2e" stroke-width="1.4" fill="none"/>
<path d="M486 222l4 11M492 221l5 13" stroke="#333" stroke-width="1.3" fill="none" opacity=".8"/>
<!-- bottom frame strip -->
<rect x="411" y="294.5" width="150" height="12" fill="#3d3d3d"/>
<path d="M411 297.5H504a3.6 3.6 0 0 1 0 7.2H411Z" fill="#6b6b6b" stroke="#222" stroke-width="1.2"/>
<circle cx="487.5" cy="300" r="2.4" fill="#222"/><circle cx="445" cy="303.5" r="1.5" fill="#222"/><circle cx="517" cy="304.5" r="1.3" fill="#222"/>
<!-- label -->
<path d="M479 236.5H560V258.5H479a7 7 0 0 1-7-7v-8a7 7 0 0 1 7-7Z" fill="#2b2b2b" stroke="#222" stroke-width="1"/>
<g transform="translate(474.5 257) rotate(-5.5) skewX(-14)">
<text x="0" y="0" font-size="21" fill="#fff" font-style="normal" textLength="76" lengthAdjust="spacingAndGlyphs" stroke="#fff" stroke-width="2" stroke-linejoin="round">SUPER</text>
<path d="M0 0l7-5.500M15-.500l7-5.500M30-.500l7-5.500M45.500-.500l6-5M60-.500l6-5" stroke="#f18a1c" stroke-width="2.600"/>
</g>
<text transform="translate(509 256.3) rotate(-5.5) skewX(-14)" font-size="5.800" fill="#f4f4f4" stroke="#f4f4f4" stroke-width=".400" textLength="52" lengthAdjust="spacingAndGlyphs">EXTRA LONG RANGE</text>
<!-- mid body (under mount) and right frame -->
<path d="M556 212.7H690V306H556Z" fill="#6d6d6d"/>
<path d="M556 282H660V297H556Z" fill="#8a8a8a"/>
<path d="M556 282H598V292H556Z" fill="#a4a4a4"/>
<path d="M596 291H660V300H596Z" fill="#3c3c3c"/>
<path d="M598 262V306" stroke="#444" stroke-width="1.2"/>
<!-- frame light gray -->
<path d="M654 258H777.3V290.7L767 297.5H654Z" fill="url(#gFrame)"/>
<path d="M656.5 300V268l5-6.5H724" stroke="#555" stroke-width="1.2" fill="none"/>
<path d="M656 262H777V272H656Z" fill="#bdbdbd" opacity=".55"/>
<path d="M700 258H777.3V275l-20 3.5-30-11Z" fill="#9a9a9a" opacity=".6"/>
<circle cx="730.2" cy="283.6" r="7.6" fill="#5a5a5a" stroke="#3a3a3a" stroke-width="1.2"/>
<path d="M723 282.5h14.5" stroke="#3a3a3a" stroke-width="1"/>
<path d="M727 268q8 6 9 22" stroke="#444" stroke-width="1" fill="none"/>
<circle cx="754.8" cy="288.6" r="3" fill="#e8e8e8" stroke="#222" stroke-width="2"/>
<!-- trigger housing + guard -->
<path d="M520 298H660V356H644L640.500 352L611 361.400H532.600V354L545.600 346L545.600 324L538 316.500L525 307L518 306Z" fill="#727272" stroke="#3a3a3a" stroke-width="1"/>
<path d="M629 307H657V352H640Z" fill="#828282"/>
<path d="M592 298H657V307H592Z" fill="#363636"/>
<path d="M636.600 307V336M642.500 307V332" stroke="#3e3e3e" stroke-width="1.200"/>
<path d="M645 300H652V330H645Z" fill="#9a9a9a" opacity=".7"/>
<path d="M551.500 321L558.500 314.500L571.700 307H600L612 330L621 346.400L629 347L607.500 355H556L551.500 349Z" fill="#fff"/>
<path d="M551.500 348V321L558.500 314.500L571.700 307H596" stroke="#333" stroke-width="1.300" fill="none"/>
<path d="M556 355H607.500L629 347" stroke="#444" stroke-width="1" fill="none"/>
<circle cx="541.500" cy="354.500" r="2.700" fill="#4a4a4a" stroke="#222" stroke-width="1.100"/>
<circle cx="541.500" cy="354.500" r=".900" fill="#ddd"/>
<circle cx="644.400" cy="342.500" r="6.600" fill="#3a3a3a" stroke="#262626" stroke-width="1.200"/>
<circle cx="644.400" cy="342.500" r="3.200" fill="#555"/>
<!-- trigger -->
<path d="M593.900 307.500L629 311.400Q634.500 318 633.700 325Q633.500 333 630.800 338.600Q627 344 621 346.400L605.500 352.200L600.700 348.300Q606 340 605.500 332.800Q605.500 324 603.600 319Q600 311 593.900 307.500Z" fill="#363636"/>
<path d="M601 311L613 306.500M603 317L625 309.500M615.500 323L632 316.500M617.500 330L633.500 324M617.500 336L632.500 331M615 343.500L630 338" stroke="#6a6a6a" stroke-width="1.100"/>
<circle cx="610.400" cy="321.500" r="3.300" fill="#fff"/><circle cx="610.400" cy="332.800" r="3.300" fill="#fff"/><circle cx="609.400" cy="345" r="3.300" fill="#fff"/>
<!-- grip -->
<path d="M648.100 366.500L670 364L681 444L663 449.100L651.700 391.500L644.300 384Z" fill="#2a2a2a"/>
<path d="M655 380L666 447" stroke="#4c4c4c" stroke-width="2" opacity=".7"/>
<path d="M657.600 300.200Q658 296.500 665.600 295.200L690 293Q702 290.500 714 290.500L738 292L748.100 303.500Q741 309 736.500 313.800Q731 320 729.200 325.400Q727.200 331 727.700 335.600Q728 343 729.900 348.800L736.500 364.800L745.200 386L755.700 416.400L759.400 430.200L676.900 445L671.800 401.500L666.900 358.700L661.800 326.400Z" fill="#2f2f2f"/>
<clipPath id="cGrip"><path d="M657.600 300.200Q658 296.500 665.600 295.200L690 293Q702 290.500 714 290.500L738 292L748.100 303.500Q741 309 736.500 313.800Q731 320 729.200 325.400Q727.200 331 727.700 335.600Q728 343 729.900 348.800L736.500 364.800L745.200 386L755.700 416.400L759.400 430.200L676.900 445L671.800 401.500L666.900 358.700L661.800 326.400Z"/></clipPath>
<g clip-path="url(#cGrip)"><path d="M745 306Q730 320 724.500 334Q722 350 727 362L752 428" stroke="#4a4a4a" stroke-width="5" fill="none" opacity=".8" filter="url(#b2)"/>
<path d="M712 296Q706 330 716 360L740 430" stroke="#3c3c3c" stroke-width="4" fill="none" opacity=".7" filter="url(#b2)"/></g>
<path d="M652 300H657.600L667 364L661 366Z" fill="#9c9c9c" stroke="#444" stroke-width=".800"/>
<!-- grip bottom band -->
<path d="M660.600 446.500L759.400 430.200L763.200 455.200L664.400 470.300Z" fill="#636363" stroke="#333" stroke-width="1"/>
<path d="M678 448L745 437L746.500 445L679.500 456Z" fill="#a2a2a2" opacity=".55" filter="url(#b1)"/>
<path d="M679 453.500L746 442.500" stroke="#3e3e3e" stroke-width="1.200"/>
<path d="M660.600 446.500L675 444.200L678.600 468.200L664.400 470.300Z" fill="#444"/>
<path d="M745 432.500L759.400 430.200L763.200 455.200L748.800 457.400Z" fill="#5a5a5a" stroke="#333" stroke-width=".800"/>
<circle cx="670.500" cy="461.500" r="2.300" fill="#1e1e1e"/><circle cx="754.500" cy="442" r="2.300" fill="#1e1e1e"/>
<!-- slide black -->
<path d="M640 212.300H747.500L754.800 201.400H777.300V273.400L740.200 267H723.800V258H640Z" fill="#2d2d2d"/>
<path d="M694.700 224H740.200V267H723.800V258H694.700Z" fill="#3b3b3b" stroke="#262626" stroke-width="1"/>
<path d="M743 224L756 214H777.300V270L752 266L743 258Z" fill="#383838"/>
<path d="M752 230L760 222H777.300V268L758 262L752 254Z" fill="#444"/>
<circle cx="767.600" cy="234.200" r="5.600" fill="#484848" stroke="#333" stroke-width="1"/><circle cx="767.600" cy="258" r="5.600" fill="#484848" stroke="#333" stroke-width="1"/>
<path d="M743 258l9 4v6l-9-3z" fill="#111"/>
<rect x="640" y="236" width="83.800" height="22" fill="#303030" stroke="#1e1e1e" stroke-width="1"/>
<path d="M640 244.200H680L682.800 239.300H691L696.500 255.200H687.400" stroke="#c8712a" stroke-width="1.100" fill="none"/>
<path d="M660 248.400h3.600l3 6.800h-3.600zM666.200 248.400h3.600l3 6.800h-3.600zM672.400 248.400h3.600l3 6.800h-3.600zM678.600 248.400h3.600l3 6.800h-3.600z" fill="#fff"/>
<!-- mount -->
<path d="M574.700 191.300H683.700V212.300H640L660 236H640V258H622V236H618Q628 250 641 263.800Q640 277 628 277.500Q616 277 606 268Q600 263.800 590 263.800Q576 264 571 270Q567 292 553 293Q541 291 541 270L548.200 234.700L553.700 216.500L557.300 209.200Z" fill="#3a3a3a"/>
<path d="M618 262L638 262Q641 270 636 275Q628 278.500 620 276Q612 273 607 268Q612 262 618 262Z" fill="#585858" stroke="#262626" stroke-width="1.300"/>
<path d="M574.700 191.300H683.700V196.400H570Z" fill="#161616"/>
<path d="M566 201H650V204H563.500Z" fill="#4c4c4c"/>
<path d="M565 205.500H652V208H563Z" fill="#222"/>
<path d="M652 196.400H662V212H652Z" fill="#4a4a4a" stroke="#1e1e1e" stroke-width="1"/>
<path d="M622 219L683.700 203V207L646 218L622 225Z" fill="#1c1c1c"/>
<path d="M623 226L648 219L659 236H641V231H623Z" fill="#4a4a4a"/>
<path d="M646 216L660 236H668L654 214Z" fill="#222"/>
<path d="M628 227H632V258H628Z" fill="#1e1e1e"/>
<path d="M541.500 266H569" stroke="#222" stroke-width="3"/>
<!-- mount window -->
<path d="M565 227.400H608a6.700 6.700 0 0 1 6.700 6.700v0L612 248L600 258.500H552L557.300 234.100a8 8 0 0 1 7.700-6.700Z" fill="#2c2c2c"/>
<path d="M565 227.400H608a6.700 6.700 0 0 1 6.700 6.700L614 236H557Z" fill="#565656"/>
<path d="M565 227.400H608a6.700 6.700 0 0 1 6.700 6.700L612 248L600 258.500H552L557.300 234.100a8 8 0 0 1 7.700-6.700Z" fill="none" stroke="#242424" stroke-width="1.300"/>
<g stroke="#f0962e" stroke-width="2.600">
<path d="M554 253.500l7-4M562 253.500l11-7M572 253.500l13-9M582 253.500l13-9M592 253.500l13-9"/>
</g>
<path d="M621 245l8-5v5l-8 5zM621 254l8-5v5l-8 5z" fill="#f0962e"/>
<text transform="translate(553.500 247) rotate(-5.500) skewX(-14)" font-size="5.800" fill="#f4f4f4" stroke="#f4f4f4" stroke-width=".400" textLength="25" lengthAdjust="spacingAndGlyphs">RANGE</text>
</g>
<!-- arrow -->
<path d="M440 161.100H489.500V152L522.200 169.700L489.500 188.800V179.400H440Z" fill="url(#arR)"/>
<!-- scope -->
<g id="scope">
<rect x="542" y="103" width="22" height="54.800" rx="6" fill="url(#gCap)"/>
<rect x="663" y="103" width="22" height="53.800" rx="6" fill="url(#gCap)"/>
<rect x="561" y="100" width="105.300" height="59.900" rx="3" fill="url(#gScope)"/>
<rect x="561" y="100" width="105.300" height="59.900" rx="3" fill="none" stroke="#444" stroke-width="1"/>
<ellipse cx="612" cy="131" rx="42" ry="13" fill="#8e8e8e" opacity=".55" filter="url(#b3)"/>
<ellipse cx="641" cy="130" rx="5" ry="4" fill="#a0a0a0" opacity=".7" filter="url(#b2)"/>
<path d="M561 122h4.500v12h-4.500zM661.800 122h4.500v12h-4.500z" fill="#999" opacity=".8"/>
<circle cx="617.800" cy="150.600" r="2.800" fill="#2a2a2a" filter="url(#b05)"/>
<circle cx="623" cy="104" r="1.800" fill="#444"/><circle cx="657" cy="104" r="1.800" fill="#444"/><circle cx="657" cy="153" r="1.800" fill="#444"/>
<path d="M568.200 153.600L572.500 152.600L583 160H650L661 152.600L665.300 153.600L651.900 174.300H580.600Z" fill="#6a6a6a" stroke="#303030" stroke-width="2" stroke-linejoin="round"/>
<path d="M579 169H654" stroke="#8a8a8a" stroke-width="2" opacity=".6"/>
<path d="M600.200 161V173M635.300 161V173" stroke="#3a3a3a" stroke-width="1.200"/>
<!-- knob -->
<ellipse cx="601" cy="98" rx="19.700" ry="9.300" fill="#7a7a7a" stroke="#4a4a4a" stroke-width="1"/>
<path d="M576.500 88Q576.500 81.400 586 81.400H616Q625 81.400 625 88V95Q625 99.500 618 99.500Q601 103 584 99.500Q576.500 99.500 576.500 95Z" fill="url(#gKnob)"/>
<path d="M580 83.500Q601 80.500 622 83.500" stroke="#666" stroke-width="1.200" fill="none"/>
<g stroke="#666" stroke-width=".7" opacity=".8"><path d="M582 86v11M586 86v12M590 86v13M594 86v13M598 86v13M602 86v13M606 86v13M610 86v13M614 86v12M618 86v11"/></g>
</g>
</g>
<g id="p3">
<g clip-path="url(#c3)"><use href="#gun" transform="translate(-420.500 151.300) scale(.972)"/></g>
<path d="M164.400 614.600L189.700 642.500L179.900 645L190.700 718L172.600 721.200L162.200 649L151.300 650.700Z" fill="url(#arU3)"/>
<path d="M266.6 632.4L296.5 627.2L299.3 646.9L269.7 651.5Z" fill="#e9e9e9" stroke="#7a7a7a" stroke-width="1.6"/>
<path d="M275.1 635.6L283.0 634.3L284.4 643.4L276.6 644.7Z" fill="#cdcdcd" stroke="#666" stroke-width="1.2"/>
<path d="M235.2 658.0L333.8 642.8L339.4 670.4L238.1 683.8Z" fill="#f0f0f0"/>
<path d="M239.5 681.4L235.0 696.9L263.6 850.2L371.4 851.1L351.7 682.8L339.1 668.1Z" fill="#f3f3f3"/>
<path d="M238.1 683.8L235.0 696.9L263.6 850.2L275.2 850.3L249.0 703.6L249.3 684.5Z" fill="#a6a6a6"/>
<path d="M237.5 700.8L242.0 700.3L269.4 850.2L265.2 850.2Z" fill="#8a8a8a"/>
<path d="M235.0 696.9L263.6 850.2" fill="none" stroke="#5c5c5c" stroke-width="2.6"/>
<path d="M242.1 696.0L270.2 850.2" fill="none" stroke="#7a7a7a" stroke-width="1.6"/>
<path d="M249.0 703.6L275.2 850.3" fill="none" stroke="#666" stroke-width="2"/>
<path d="M243.5 756.5L247.8 756.2L251.7 777.0L247.4 777.3Z" fill="#cfcfcf" stroke="#777" stroke-width="1.2"/>
<path d="M339.1 668.1L351.7 682.8L371.4 851.1L358.8 851.0L338.0 693.5L331.3 673.8Z" fill="#c3c3c3"/>
<path d="M351.7 682.8L371.4 851.1" fill="none" stroke="#6a6a6a" stroke-width="2.2"/>
<path d="M344.0 681.4L364.6 851.1" fill="none" stroke="#9a9a9a" stroke-width="1.8"/>
<path d="M338.0 693.5L357.8 851.0" fill="none" stroke="#6e6e6e" stroke-width="2"/>
<path d="M356.8 744.3L362.0 744.0L364.6 767.0L359.5 767.3Z" fill="#dcdcdc" stroke="#777" stroke-width="1.2"/>
<path d="M238.1 683.8L235.2 658.0L333.8 642.8L339.1 668.1" fill="none" stroke="#585858" stroke-width="3"/>
<path d="M239.6 661.8L330.1 648.1" fill="none" stroke="#9a9a9a" stroke-width="1.4"/>
<path d="M251.1 694.9L260.0 669.9L281.0 666.9" fill="none" stroke="#666" stroke-width="2.4"/>
<path d="M294.8 665.0L312.9 662.4L330.6 685.3" fill="none" stroke="#666" stroke-width="2.4"/>
<path d="M256.8 700.6L263.4 678.2L282.4 675.7" fill="none" stroke="#999" stroke-width="1.8"/>
<path d="M296.1 673.9L312.1 671.7L326.4 692.6" fill="none" stroke="#999" stroke-width="1.8"/>
<path d="M253.0 694.7L280.3 850.3" fill="none" stroke="#a4a4a4" stroke-width="1.6"/>
<path d="M328.6 685.6L350.2 850.9" fill="none" stroke="#a4a4a4" stroke-width="1.6"/>
<path d="M262.8 708.4L287.1 850.4" fill="none" stroke="#c2c2c2" stroke-width="1.5"/>
<path d="M272.2 696.7L297.5 850.5" fill="none" stroke="#c2c2c2" stroke-width="1.5"/>
<path d="M308.9 692.4L331.5 850.8" fill="none" stroke="#c2c2c2" stroke-width="1.5"/>
<path d="M321.5 702.0L341.7 850.8" fill="none" stroke="#c2c2c2" stroke-width="1.5"/>
<path d="M263.2 710.5L272.4 709.5L278.4 746.1L269.4 746.8Z" fill="#d6d6d6"/>
<path d="M312.8 705.2L320.7 704.3L325.4 738.3L317.5 738.9Z" fill="#e2e2e2"/>
<path d="M248.3 699.5L257.0 674.7L277.9 671.8" fill="none" stroke="#555" stroke-width="1.6"/>
<path d="M262.1 704.3L268.2 684.2" fill="none" stroke="#555" stroke-width="2"/>
<path d="M264.4 739.1L330.5 731.5" fill="none" stroke="#8a8a8a" stroke-width="1.6"/>
<path d="M275.5 750.3L330.2 744.2" fill="none" stroke="#9a9a9a" stroke-width="1.6"/>
<path d="M279.4 762.9L334.0 757.4" fill="none" stroke="#8a8a8a" stroke-width="1.6"/>
<path d="M280.9 771.6L335.1 765.6" fill="none" stroke="#555" stroke-width="1.8"/>
<path d="M272.5 806.0L288.1 825.6L333.5 825.1L344.1 804.0" fill="none" stroke="#8a8a8a" stroke-width="2"/>
<path d="M281.0 814.9L292.2 829.2" fill="none" stroke="#555" stroke-width="2.4"/>
<path d="M337.6 813.7L330.3 828.9" fill="none" stroke="#555" stroke-width="2.4"/>
<path d="M283.3 629.5L292.4 627.9L314.2 804.8L305.4 805.0Z" fill="#7a7a7a" stroke="#5e5e5e" stroke-width="0.8"/>
</g>
<g id="p4" clip-path="url(#c4)">
<!-- gun front -->
<use href="#gun" transform="matrix(0.9866 0.1628 -0.1464 1.0235 320.38 342.69)"/>
<!-- dashed -->
<path d="M466.300 498.800H597.700" stroke="#1a86d6" stroke-width="3.300" stroke-dasharray="13.600 7.400" fill="none"/>
<path d="M463 502V599" stroke="#1a86d6" stroke-width="3.300" stroke-dasharray="14 7.300" fill="none"/>
<!-- disc -->
<circle cx="667.900" cy="500.600" r="69.200" fill="#3f3f3f"/>
<circle cx="667.500" cy="499.500" r="63.500" fill="none" stroke="#5a5a5a" stroke-width="2.200"/>
<circle cx="667" cy="499" r="59.500" fill="#444"/>
<circle cx="666.500" cy="499" r="55.500" fill="#4e6d5d"/>
<circle cx="667.300" cy="499" r="25.800" fill="#5b5f5c"/>
<circle cx="667.800" cy="500.600" r="21.400" fill="#151515"/>
<circle cx="667.800" cy="500.800" r="18.600" fill="#fff"/>
<circle cx="653.400" cy="464.800" r="8" fill="#a66a12" stroke="#75592c" stroke-width="1.600"/>
<circle cx="681.900" cy="534.800" r="8" fill="#a66a12" stroke="#75592c" stroke-width="1.600"/>
<g transform="translate(694.800 468.300) rotate(-17)"><rect x="-12.500" y="-9.300" width="25" height="18.600" rx="2.500" fill="#555"/><rect x="-7.500" y="-5.500" width="15" height="11" rx="1" fill="#b9b9b9"/></g>
<circle cx="705.500" cy="484.500" r="7.500" fill="#545454"/><circle cx="705.500" cy="484.500" r="4" fill="#9a9a9a"/>
<!-- lever -->
<g>
<path d="M625 507L641.400 534" stroke="#a9a9a9" stroke-width="17.500" stroke-linecap="round"/>
<rect x="-16" y="-25.500" width="32" height="51" rx="15" transform="translate(629.600 483.200) rotate(15)" fill="#a9a9a9"/>
<path d="M625 507L641.400 534" stroke="#d6d6d6" stroke-width="14.500" stroke-linecap="round"/>
<rect x="-14.500" y="-24" width="29" height="48" rx="14" transform="translate(629.600 483.200) rotate(15)" fill="#d6d6d6"/>
<rect x="-7" y="-16" width="14" height="32" rx="7" transform="translate(629.600 483.200) rotate(15)" fill="none" stroke="#bdbdbd" stroke-width="2"/>
<rect x="-4.500" y="-13.500" width="9" height="27" rx="4.500" transform="translate(629.600 483.200) rotate(15)" fill="#e4e4e4"/>
</g>
<!-- small arrow -->
<path d="M712.500 459.400L730 444L731.400 449.700L753 443L754 454L734 460.300L734.400 466Z" fill="url(#arS)"/>
<!-- cylinder -->
<g transform="translate(463 594.400) rotate(9.800)">
<path d="M122 22H130V24H154Q157.500 34 154 46H130V48H122Z" fill="url(#gNoz)" stroke="#3a3a3a" stroke-width="1"/>
<path d="M4 0H118Q123 0 123 5V62Q123 67 118 67L4 69.500Q-1 69.500-1.500 60Q-3 34.500-1.500 9Q-1 0 4 0Z" fill="url(#gCyl)"/>
<path d="M4 0H22V69.200L4 69.500Q-1 69.500-1.500 60Q-3 34.500-1.500 9Q-1 0 4 0Z" fill="#5c5c5c" opacity=".75"/>
<path d="M11 1Q8 34 11 69M21.500 1Q19 34 21.500 69" stroke="#333" stroke-width="2.200" fill="none" opacity=".8"/>
<rect x="40" y="10" width="74" height="50" fill="#5e5e5e" opacity=".55" filter="url(#b1)"/>
<path d="M102 38H116V41.500H102ZM102 38V46" fill="#353535" stroke="#353535" stroke-width="1"/>
<path d="M4 .700H118" stroke="#262626" stroke-width="1.800"/>
<path d="M114 2V66" stroke="#333" stroke-width="2" opacity=".6"/>
</g>
<!-- arrow -->
<path d="M533.900 707.500L597.300 717L599.500 709.700L623.500 729.700L592.900 741.800L595.100 732.300L532.400 722.800Z" fill="url(#arR4)"/>
</g>
<g id="badges">
<path d="M47.2 0H105.4A44.6 44.6 0 0 1 47.2 55Z" fill="#f5820b"/>
<clipPath id="c1f"><path d="M62.800 0H76.100V60H67.700V21H62.800Z"/></clipPath>
<g clip-path="url(#c1f)"><text transform="translate(70.400 41.900) scale(1.180 1)" font-size="52" text-anchor="middle" fill="#fff">1</text></g>
<path d="M411.8 0H470A44.6 44.6 0 0 1 411.8 56.6Z" fill="#f5820b"/>
<text x="435.500" y="43.300" font-size="52" text-anchor="middle" fill="#fff">2</text>
<path d="M47.2 387.3H104.6A44.6 44.6 0 0 1 47.2 440.7Z" fill="#f5820b"/>
<text x="67.800" y="427.200" font-size="52.500" text-anchor="middle" fill="#fff">3</text>
<path d="M411.5 387.3H469.1A44.6 44.6 0 0 1 411.5 444.2Z" fill="#f5820b"/>
<text x="435.300" y="431.300" font-size="50" text-anchor="middle" fill="#fff">4</text>
</g>
<rect x="410" y="820.5" width="371" height="2.5" fill="#f0f6f6"/>
</svg>
</body></html>
